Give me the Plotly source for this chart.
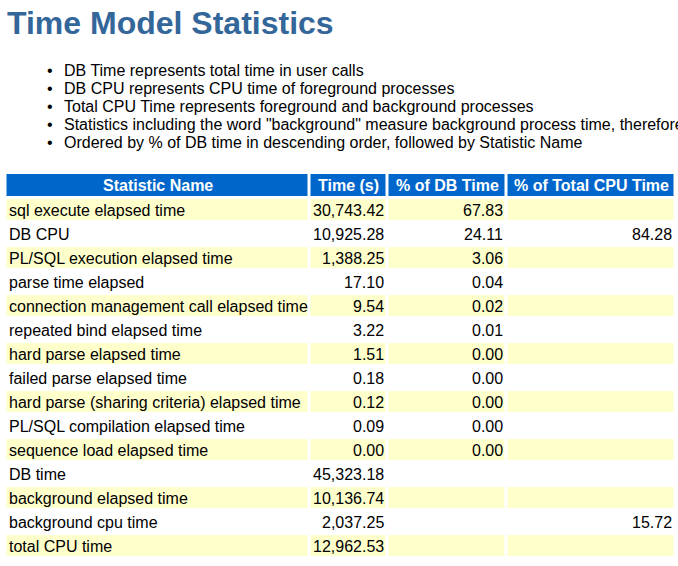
import plotly.graph_objects as go

# ---------------- data ----------------
title_text = "Time Model Statistics"
notes = [
    "DB Time represents total time in user calls",
    "DB CPU represents CPU time of foreground processes",
    "Total CPU Time represents foreground and background processes",
    'Statistics including the word "background" measure background process time, therefore do not add to DB time',
    "Ordered by % of DB time in descending order, followed by Statistic Name",
]
headers = ["Statistic Name", "Time (s)", "% of DB Time", "% of Total CPU Time"]
stat_names = [
    "sql execute elapsed time",
    "DB CPU",
    "PL/SQL execution elapsed time",
    "parse time elapsed",
    "connection management call elapsed time",
    "repeated bind elapsed time",
    "hard parse elapsed time",
    "failed parse elapsed time",
    "hard parse (sharing criteria) elapsed time",
    "PL/SQL compilation elapsed time",
    "sequence load elapsed time",
    "DB time",
    "background elapsed time",
    "background cpu time",
    "total CPU time",
]
time_s = [30743.42, 10925.28, 1388.25, 17.10, 9.54, 3.22, 1.51, 0.18, 0.12,
          0.09, 0.00, 45323.18, 10136.74, 2037.25, 12962.53]
pct_db_time = [67.83, 24.11, 3.06, 0.04, 0.02, 0.01, 0.00, 0.00, 0.00,
               0.00, 0.00, None, None, None, None]
pct_cpu_time = [None, 84.28, None, None, None, None, None, None, None,
                None, None, None, None, 15.72, None]

# ---------------- layout constants ----------------
W, H = 678, 566
FONT = "Liberation Sans, Arial, Helvetica, sans-serif"
TITLE_COLOR = "#336699"
HEAD_COLOR = "#0066cc"
ZEBRA_COLOR = "#ffffcc"

tbl_left = 5.5
col_widths = [304, 78, 119, 169]      # incl. gap
gap = 3
head_top, head_h = 173, 25
row_h = 24

col_edges = [tbl_left]
for w in col_widths:
    col_edges.append(col_edges[-1] + w)
row_edges = [head_top, head_top + head_h]
for _ in stat_names:
    row_edges.append(row_edges[-1] + row_h)

# z: 0 header, 1 zebra, None white
z = [[0] * len(headers)]
for i in range(len(stat_names)):
    z.append([1 if i % 2 == 0 else None] * len(headers))

fig = go.Figure()
fig.add_trace(go.Heatmap(
    x=col_edges, y=row_edges, z=z,
    xgap=gap, ygap=gap,
    colorscale=[[0, HEAD_COLOR], [0.5, HEAD_COLOR], [0.5, ZEBRA_COLOR], [1, ZEBRA_COLOR]],
    zmin=0, zmax=1, showscale=False, hoverinfo="skip",
))

ann = []
def add(text, x, y, xa="left", size=16, color="#000000", bold=False):
    ann.append(dict(
        text=f"<b>{text}</b>" if bold else text, x=x, y=y, xref="x", yref="y",
        xanchor=xa, yanchor="middle", showarrow=False, borderpad=0, borderwidth=0,
        font=dict(family=FONT, size=size, color=color),
    ))

# title
add(title_text, 7, 22.5, size=32, color=TITLE_COLOR, bold=True)
# bullets
for k, t in enumerate(notes):
    yc = 70.2 + 18 * k
    add("\u2022", 46.5, yc)
    add(t, 63.5, yc)

# header
def cell_bounds(c):
    return col_edges[c] + gap / 2, col_edges[c + 1] - gap / 2

for c, h in enumerate(headers):
    a, b = cell_bounds(c)
    add(h, (a + b) / 2, (row_edges[0] + row_edges[1]) / 2, xa="center", color="white", bold=True)

def fmt(v):
    return "" if v is None else f"{v:,.2f}"

for i, name in enumerate(stat_names):
    yc = (row_edges[i + 1] + row_edges[i + 2]) / 2
    a, b = cell_bounds(0)
    add(name, a + 2, yc)
    for c, vals in ((1, time_s), (2, pct_db_time), (3, pct_cpu_time)):
        s = fmt(vals[i])
        if s:
            a, b = cell_bounds(c)
            add(s, b - 2.5, yc, xa="right")

fig.update_layout(
    width=W, height=H, autosize=False,
    margin=dict(l=0, r=0, t=0, b=0, pad=0),
    paper_bgcolor="white", plot_bgcolor="white",
    xaxis=dict(range=[0, W], visible=False, fixedrange=True),
    yaxis=dict(range=[H, 0], visible=False, fixedrange=True),
    annotations=ann, showlegend=False,
)

fig.write_html("out.html", config={"displayModeBar": False},
               post_script="document.body.style.margin='0';")
